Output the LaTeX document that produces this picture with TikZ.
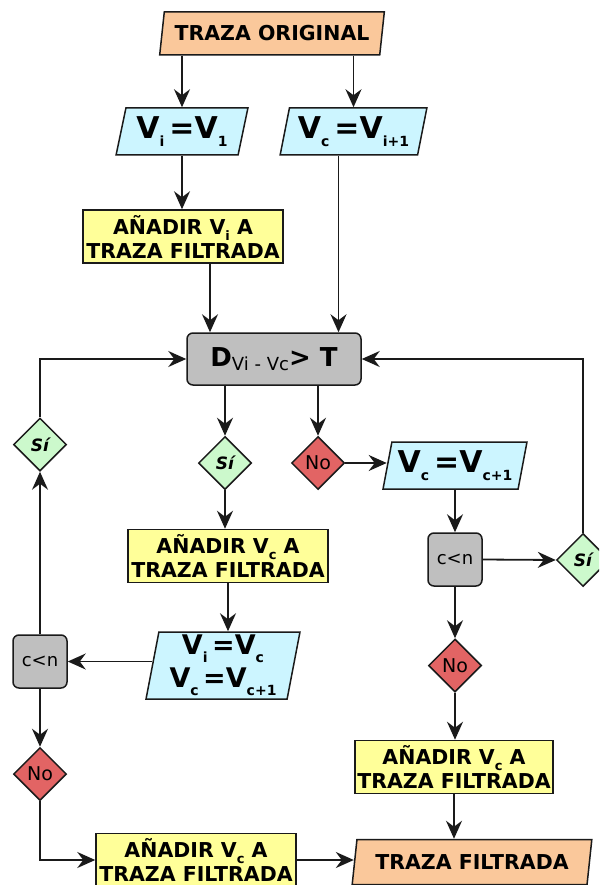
\documentclass[tikz,border=0pt]{standalone}
\usepackage{fontspec}
\setmainfont{DejaVu Sans}
\usepackage{tikz}
\usetikzlibrary{arrows.meta,positioning,shapes.geometric}
\definecolor{trzorange}{HTML}{FAC89B}
\definecolor{trzcyan}{HTML}{CCF5FF}
\definecolor{trzyellow}{HTML}{FFFF99}
\definecolor{trzgray}{HTML}{BFBFBF}
\definecolor{trzgreen}{HTML}{CCF9CC}
\definecolor{trzred}{HTML}{E26464}
\definecolor{trzink}{HTML}{1A1A1A}
\newcommand{\vsub}[1]{\raisebox{-8pt}{\fontsize{14}{14}\selectfont #1}}
\newcommand{\tsub}[1]{\raisebox{-6pt}{\fontsize{13}{13}\selectfont #1}}

\begin{document}
\begin{tikzpicture}[x=1pt,y=-1pt,
  data/.style={trapezium,trapezium left angle=75,trapezium right angle=105,
               trapezium stretches=true,draw=trzink,line width=1.5pt,
               inner sep=0pt,align=center},
  io/.style={data,fill=trzorange,font=\fontsize{20.5}{24}\selectfont\bfseries},
  asig/.style={data,fill=trzcyan,font=\fontsize{30}{32}\selectfont\bfseries},
  proc/.style={draw=trzink,line width=1.5pt,fill=trzyellow,
               minimum width=200pt,minimum height=53pt,inner sep=0pt,
               align=center,font=\fontsize{20.5}{24}\selectfont\bfseries},
  cond/.style={rounded corners=6pt,draw=trzink,line width=1.5pt,fill=trzgray,
               minimum width=54pt,minimum height=53pt,inner sep=0pt,
               font=\fontsize{18}{18}\selectfont},
  dec/.style={diamond,aspect=1,draw=trzink,line width=1.5pt,
              minimum size=53pt,inner sep=0pt},
  sidec/.style={dec,fill=trzgreen,font=\fontsize{17}{17}\selectfont\bfseries\itshape},
  nodec/.style={dec,fill=trzred,font=\fontsize{19}{19}\selectfont},
  arr/.style={-{Stealth[length=18pt,width=16pt,inset=6pt]},line width=1.8pt,color=trzink}
]
\clip (0,0) rectangle (599,885);
\fill[white] (0,0) rectangle (599,885);

\node[io,minimum width=225pt,minimum height=43pt] (orig) at (272,33.5) {TRAZA ORIGINAL};
\node[asig,minimum width=132pt,minimum height=47pt] (vi1) at (182,131.5) {V\vsub{i}\,=V\vsub{1}};
\node[asig,minimum width=147pt,minimum height=47pt] (vc1) at (353.5,131.5) {V\vsub{c}\,=V\vsub{i+1}};
\node[proc] (addi) at (183,236.5) {AÑADIR V\tsub{i} A\\TRAZA FILTRADA};
\node[cond,minimum width=174pt,minimum height=52pt,font=\fontsize{26}{26}\selectfont\bfseries] (dist) at (274,359)
  {D\raisebox{-4pt}{\fontsize{18}{18}\selectfont\mdseries Vi - Vc}> T};

\node[sidec] (si1) at (225,463) {Sí};
\node[nodec] (no1) at (318,463) {No};
\node[asig,minimum width=144pt,minimum height=47pt] (vcc) at (455,465.5) {V\vsub{c}\,=V\vsub{c+1}};
\node[cond] (cn1) at (455,559.5) {c<n};
\node[sidec] (si2) at (583,560) {Sí};
\node[nodec] (no3) at (455,665.5) {No};
\node[proc,minimum width=198pt] (addc3) at (454,767) {AÑADIR V\tsub{c} A\\TRAZA FILTRADA};
\node[io,minimum width=240pt,minimum height=45pt] (fin) at (472,862) {TRAZA FILTRADA};

\node[proc] (addc1) at (228,556) {AÑADIR V\tsub{c} A\\TRAZA FILTRADA};
\node[asig,trapezium left angle=80,trapezium right angle=100,minimum width=154pt,minimum height=67pt,
      font=\fontsize{27}{33}\selectfont\bfseries] (vivc) at (223,665.5) {V\vsub{i}\,=V\vsub{c}\\V\vsub{c}\,=V\vsub{c+1}};
\node[cond] (cn2) at (40,661.5) {c<n};
\node[sidec] (si3) at (40,444.5) {Sí};
\node[nodec] (no2) at (40,774) {No};
\node[proc] (addc2) at (196,860) {AÑADIR V\tsub{c} A\\TRAZA FILTRADA};

\draw[arr] (orig.south -| vi1.north) -- (vi1.north);
\draw[arr] (orig.south -| vc1.north) -- (vc1.north);
\draw[arr] (vi1.south) -- (vi1.south |- addi.north);
\draw[arr] ([xshift=27pt]addi.south) -- ([xshift=27pt]addi.south |- dist.north);
\draw[arr] ([xshift=-15pt]vc1.south) -- ([xshift=-15pt]vc1.south |- dist.north);
\draw[arr] (si1.north |- dist.south) -- (si1.north);
\draw[arr] (no1.north |- dist.south) -- (no1.north);
\draw[arr] (si1.south) -- (si1.south |- addc1.north);
\draw[arr] (addc1.south) -- (addc1.south |- vivc.north);
\draw[arr] (cn2.east -| vivc.west) -- (cn2.east);
\draw[arr] (cn2.north) -- (si3.south);
\draw[arr] (si3.north) |- (dist.west);
\draw[arr] (cn2.south) -- (no2.north);
\draw[arr] (no2.south) |- (addc2.west);
\draw[arr] (addc2.east) -- (addc2.east -| fin.west);
\draw[arr] (no1.east) -- (no1.east -| vcc.west);
\draw[arr] (vcc.south) -- (cn1.north);
\draw[arr] (cn1.east) -- (si2.west);
\draw[arr] (si2.north) |- (dist.east);
\draw[arr] (cn1.south) -- (no3.north);
\draw[arr] (no3.south) -- (no3.south |- addc3.north);
\draw[arr] (addc3.south) -- (fin.north -| addc3.south);
\end{tikzpicture}
\end{document}
